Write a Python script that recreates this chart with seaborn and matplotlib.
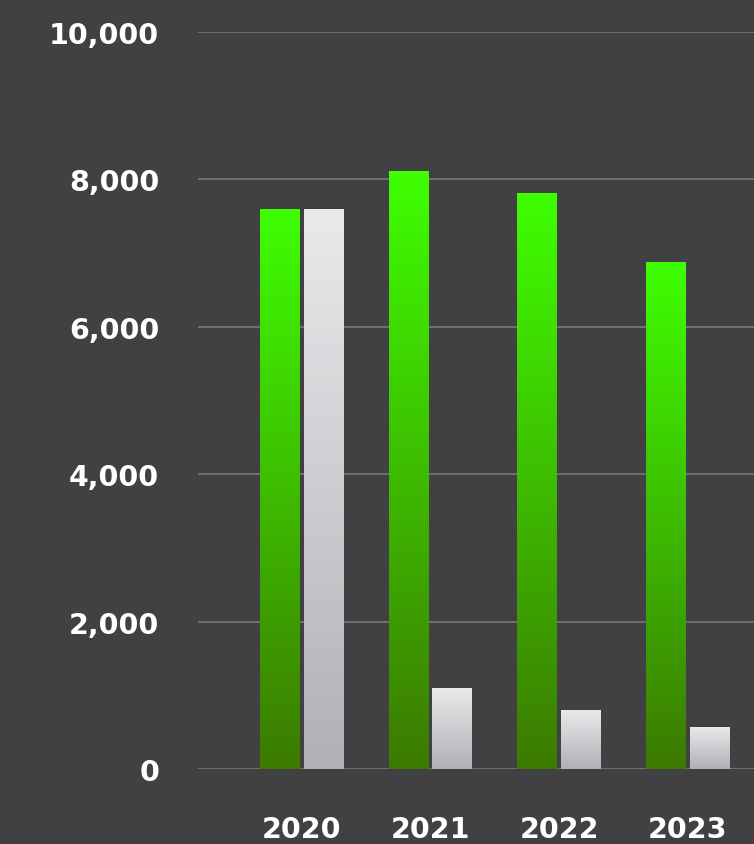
import numpy as np
import pandas as pd
import matplotlib
matplotlib.use("Agg")
import matplotlib.pyplot as plt
import seaborn as sns
from matplotlib.colors import LinearSegmentedColormap

years = ["2020", "2021", "2022", "2023"]
series_a = [7605, 8110, 7810, 6885]
series_b = [7605, 1100, 805, 570]
series_names = ["A", "B"]
y_ticks = [0, 2000, 4000, 6000, 8000, 10000]

df = pd.DataFrame({
    "year": years * 2,
    "value": series_a + series_b,
    "series": [series_names[0]] * 4 + [series_names[1]] * 4,
})

BG = "#414143"
sns.set_theme(style="dark")
plt.rcParams["font.family"] = ["DejaVu Sans"]

fig = plt.figure(figsize=(7.54, 8.45), dpi=100, facecolor=BG)
ax = fig.add_axes([198 / 754, 1 - 770 / 845, 1 - 198 / 754, (770 - 33) / 845])
ax.set_facecolor(BG)

sns.barplot(data=df, x="year", y="value", hue="series", ax=ax,
            palette=["#3dff00", "#e8e9eb"], width=0.68, gap=0.09,
            legend=False, zorder=3, linewidth=0)

green_cmap = LinearSegmentedColormap.from_list("g", ["#3c7a00", "#3fff00"])
white_cmap = LinearSegmentedColormap.from_list("w", ["#b0b1b4", "#e9eaec"])
grad = np.linspace(0, 1, 256).reshape(-1, 1)

n = len(years)
for i, p in enumerate(ax.patches):
    x0, y0 = p.get_x(), p.get_y()
    w, h = p.get_width(), p.get_height()
    cmap = green_cmap if i < n else white_cmap
    im = ax.imshow(grad, cmap=cmap, aspect="auto", origin="lower",
                   extent=[x0, x0 + w, y0, y0 + h], zorder=4)
    im.set_clip_path(p)

ax.set_xlim(-0.804, 3.513)
ax.set_ylim(0, 10000)
ax.set_yticks(y_ticks)
ax.set_yticklabels([f"{v:,}" for v in y_ticks])
ax.grid(axis="y", color="#78787a", linewidth=1.2, zorder=0)
ax.grid(axis="x", visible=False)
ax.set_axisbelow(True)
for s in ax.spines.values():
    s.set_visible(False)
ax.set_xlabel("")
ax.set_ylabel("")
ax.tick_params(axis="y", length=0, pad=28, labelsize=20.5, labelcolor="white")
ax.tick_params(axis="x", length=0, pad=33, labelsize=20.5, labelcolor="white")
for lab in ax.get_xticklabels() + ax.get_yticklabels():
    lab.set_fontweight("bold")

fig.savefig("out.png", dpi=100, facecolor=BG)
